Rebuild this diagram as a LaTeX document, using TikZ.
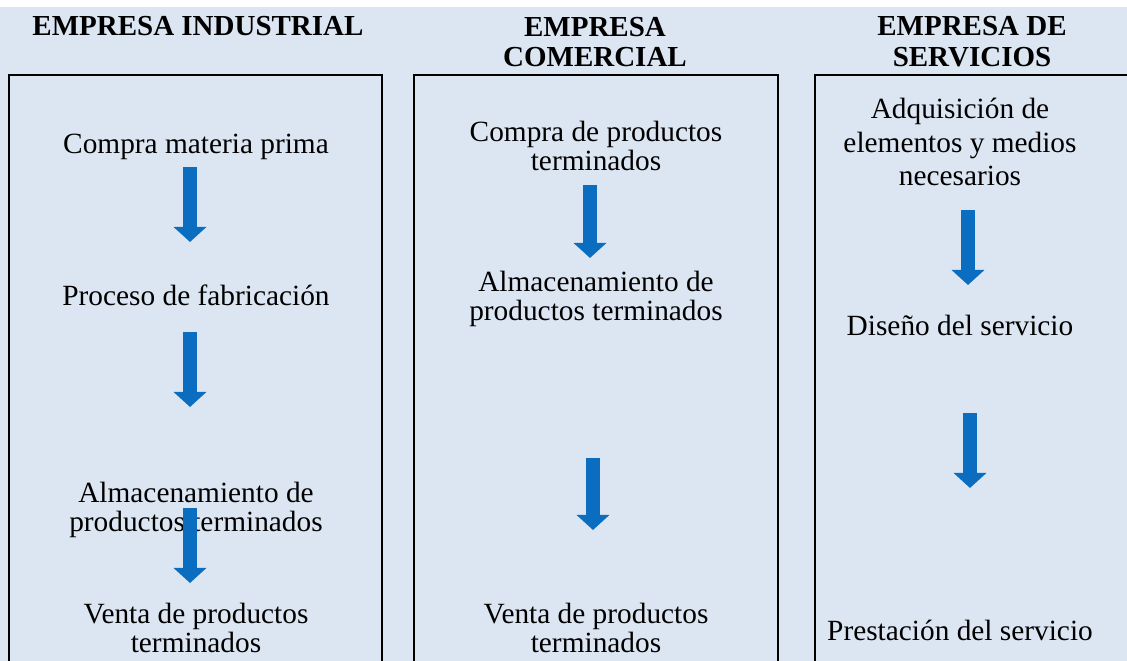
\documentclass[tikz,border=0pt]{standalone}
\usepackage{fontspec}
\setmainfont{Liberation Serif}
\usetikzlibrary{arrows.meta}
\definecolor{fondo}{HTML}{DCE6F2}
\definecolor{azulflecha}{HTML}{0A6DBF}

\begin{document}
\begin{tikzpicture}[x=0.02cm,y=-0.02cm,
    paso/.style={align=center,inner sep=0pt,font=\fontsize{16.7}{17}\selectfont},
    titulo/.style={align=center,inner sep=0pt,font=\fontsize{16.5}{17.5}\selectfont\bfseries},
    caja/.style={draw=black,line width=0.9pt},
    flechaazul/.style={draw=azulflecha,line width=0.28cm,-{Triangle[length=0.3cm,width=0.64cm]}}]

      \useasboundingbox (0,0) rectangle (1127,661);
      \fill[fondo] (0,7) rectangle (1127,661);

      % cajas
      \draw[caja] (9,661) -- (9,75) -- (382,75) -- (382,661);
      \draw[caja] (414,661) -- (414,75) -- (778,75) -- (778,661);
      \draw[caja] (815,661) -- (815,75) -- (1127,75);

      % titulos
      \node[titulo] (ind) at (198,26){EMPRESA INDUSTRIAL};
      \node[titulo] (com) at (595,42){EMPRESA\\COMERCIAL};
      \node[titulo] (ser) at (972,42){EMPRESA DE\\SERVICIOS};

      % empresa industrial
      \node[paso] (i1) at (196,147){Compra materia prima};
      \node[paso] (i2) at (196,295){Proceso de fabricación};
      \node[paso] (i3) at (196,510){Almacenamiento de\\productos terminados};
      \node[paso] (i4) at (196,628){Venta de productos\\terminados};

      % empresa comercial
      \node[paso] (c1) at (596,146){Compra de productos\\terminados};
      \node[paso] (c2) at (596,299){Almacenamiento de\\productos terminados};
      \node[paso] (c3) at (596,628){Venta de productos\\terminados};

      % empresa de servicios
      \node[paso,font=\fontsize{16.7}{19}\selectfont] (s1) at (960,142){Adquisición de\\elementos y medios\\necesarios};
      \node[paso] (s2) at (960,325){Diseño del servicio};
      \node[paso] (s3) at (960,630){Prestación del servicio};

      % flechas
      \coordinate (i1a) at (190,167); \coordinate (i1b) at (190,242);
      \coordinate (i2a) at (190,332); \coordinate (i2b) at (190,407);
      \coordinate (i3a) at (190,508); \coordinate (i3b) at (190,583);
      \coordinate (c1a) at (590,185); \coordinate (c1b) at (590,258);
      \coordinate (c2a) at (593,458); \coordinate (c2b) at (593,530);
      \coordinate (s1a) at (968,210); \coordinate (s1b) at (968,285);
      \coordinate (s2a) at (970,413); \coordinate (s2b) at (970,488);

      \draw[flechaazul] (i1a) -- (i1b);
      \draw[flechaazul] (i2a) -- (i2b);
      \draw[flechaazul] (i3a) -- (i3b);
      \draw[flechaazul] (c1a) -- (c1b);
      \draw[flechaazul] (c2a) -- (c2b);
      \draw[flechaazul] (s1a) -- (s1b);
      \draw[flechaazul] (s2a) -- (s2b);

    \end{tikzpicture}
\end{document}
